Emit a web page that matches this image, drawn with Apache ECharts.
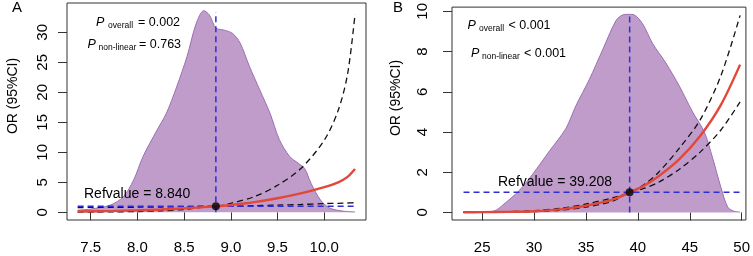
<!DOCTYPE html>
<html><head><meta charset="utf-8">
<script src="https://cdn.jsdelivr.net/npm/echarts@6/dist/echarts.min.js"></script>
<style>html,body{margin:0;padding:0;background:#fff}#c{width:753px;height:256px}</style>
</head><body><div id="c"></div>
<script>
// ---------- Panel A data ----------
const densAx = [7.36, 7.5, 7.71, 7.85, 7.96, 8.06, 8.21, 8.31, 8.42, 8.53, 8.63, 8.71, 8.77, 8.84, 8.92, 9.02, 9.1, 9.2, 9.31, 9.42, 9.52, 9.63, 9.72, 9.79, 9.86, 9.96, 10.06, 10.2, 10.33];
const densAy = [0.35, 0.55, 1.2, 2.6, 5.4, 9.3, 13.7, 16.5, 20.9, 25.9, 31.5, 33.6, 32.9, 30.7, 30.4, 29.8, 28.2, 24.3, 20.4, 16.5, 12.1, 9.3, 8.2, 7.3, 4.8, 2.05, 0.7, 0.2, 0.05];
const curveAx = [7.36, 7.75, 8.0, 8.25, 8.5, 8.84, 9.0, 9.25, 9.5, 9.75, 10.0, 10.15, 10.25, 10.33];
const orA     = [0.14, 0.23, 0.33, 0.47, 0.66, 1, 1.22, 1.7, 2.35, 3.15, 4.2, 5.0, 5.9, 7.2];
const upA     = [0.8, 0.82, 0.85, 0.88, 0.95, 1, 1.5, 2.6, 4.5, 7.3, 12, 17, 23, 33];
const loA     = [0.03, 0.07, 0.13, 0.25, 0.47, 1, 1.0, 1.1, 1.2, 1.3, 1.45, 1.5, 1.55, 1.6];
const refA = 8.840, refTopA = 33.4;
const xTicksA = [7.5, 8.0, 8.5, 9.0, 9.5, 10.0];
const yTicksA = [0, 5, 10, 15, 20, 25, 30];

// ---------- Panel B data ----------
const densBx = [23.2, 25, 26.2, 26.97, 28.57, 29.86, 31.46, 33.07, 34.04, 35.32, 36.6, 37.89, 38.53, 39.1, 39.65, 40.46, 41.42, 42.7, 43.99, 45.28, 46.4, 47.2, 48.0, 48.65, 49.2, 49.85];
const densBy = [0.01, 0.02, 0.08, 0.36, 1.09, 1.9, 3.04, 4.18, 5.32, 6.61, 8.08, 9.54, 9.82, 9.85, 9.82, 9.38, 8.4, 7.43, 6.29, 4.99, 4.0, 2.71, 1.25, 0.27, 0.07, 0.02];
const curveBx = [23.2, 25, 27.5, 30, 32.5, 35, 37.5, 39.208, 40.5, 42, 44, 46, 48, 49.85];
const orB     = [0.01, 0.015, 0.03, 0.06, 0.15, 0.33, 0.62, 1, 1.3, 1.8, 2.65, 3.8, 5.35, 7.35];
const upB     = [0.015, 0.02, 0.04, 0.09, 0.2, 0.42, 0.72, 1, 1.35, 2.0, 3.2, 4.6, 6.8, 9.8];
const loB     = [0.005, 0.01, 0.02, 0.04, 0.11, 0.27, 0.55, 1, 1.18, 1.5, 2.15, 3.0, 4.1, 5.5];
const refB = 39.208, refTopB = 9.8;
const xTicksB = [25, 30, 35, 40, 45, 50];
const yTicksB = [0, 2, 4, 6, 8, 10];

const FONT = 'Liberation Sans, Arial, Helvetica, sans-serif';
const PURPLE = '#C09CCB', PURPLE_EDGE = '#9A70B0', RED = '#E2473A', BLUE = '#2E2ED4';

const zip = (xs, ys) => xs.map((x, i) => [x, ys[i]]);

function panelSeries(idx, dx, dy, cx, or, up, lo, ref, refTop) {
  const base = {xAxisIndex: idx, yAxisIndex: idx, symbol: 'none', silent: true, animation: false};
  const sm = {smooth: 0.3};
  return [
    Object.assign({}, base, sm, {type: 'line', data: zip(dx, dy),
      lineStyle: {color: PURPLE_EDGE, width: 1}, areaStyle: {color: PURPLE, opacity: 1}, z: 1}),
    Object.assign({}, base, sm, {type: 'line', data: zip(cx, lo),
      lineStyle: {color: '#111', width: 1.3, type: [6, 4]}, z: 2}),
    Object.assign({}, base, sm, {type: 'line', data: zip(cx, up),
      lineStyle: {color: '#111', width: 1.3, type: [6, 4]}, z: 2}),
    Object.assign({}, base, {type: 'line', data: [[cx[0], 1], [cx[cx.length - 1], 1]],
      lineStyle: {color: BLUE, width: 1.5, type: [6, 4]}, z: 3}),
    Object.assign({}, base, {type: 'line', data: [[ref, 0], [ref, refTop]],
      lineStyle: {color: BLUE, width: 1.5, type: [6, 4]}, z: 3}),
    Object.assign({}, base, sm, {type: 'line', data: zip(cx, or),
      lineStyle: {color: RED, width: 2.4}, z: 4}),
    Object.assign({}, base, {type: 'scatter', symbol: 'circle', symbolSize: 8, data: [[ref, 1]],
      itemStyle: {color: '#000'}, z: 5})
  ];
}

function xAxis(idx, min, max, ticks, fmt) {
  return {type: 'value', gridIndex: idx, min: min, max: max,
    splitLine: {show: false}, axisLine: {show: false},
    axisTick: {show: true, length: 8, customValues: ticks, lineStyle: {color: '#333', width: 1}},
    axisLabel: {customValues: ticks, margin: 20, fontSize: 15, color: '#000', fontFamily: FONT, formatter: fmt}};
}
function yAxis(idx, min, max, ticks, margin) {
  return {type: 'value', gridIndex: idx, min: min, max: max,
    splitLine: {show: false}, axisLine: {show: false},
    axisTick: {show: true, length: 9, customValues: ticks, lineStyle: {color: '#333', width: 1}},
    axisLabel: {customValues: ticks, margin: margin, rotate: 90, fontSize: 15, color: '#000', fontFamily: FONT,
      formatter: v => String(Math.round(v))}};
}

function txt(x, y, s, size, opts) {
  return {type: 'text', x: x, y: y, silent: true, z: 100, rotation: (opts && opts.rot) || 0,
    style: {text: s, fontSize: size, fontFamily: FONT, fill: '#000',
      fontStyle: (opts && opts.italic) ? 'italic' : 'normal',
      align: (opts && opts.align) || 'left', verticalAlign: 'middle'}};
}

const chart = echarts.init(document.getElementById('c'), null, {width: 753, height: 256});
chart.setOption({
  animation: false,
  backgroundColor: '#fff',
  grid: [
    {left: 67, top: 3, width: 299, height: 217, show: true, borderColor: '#333', borderWidth: 1, backgroundColor: 'transparent'},
    {left: 452, top: 3, width: 294, height: 217, show: true, borderColor: '#333', borderWidth: 1, backgroundColor: 'transparent'}
  ],
  xAxis: [
    xAxis(0, 7.246, 10.4475, xTicksA, v => v.toFixed(1)),
    xAxis(1, 22.09, 50.41, xTicksB, v => String(Math.round(v)))
  ],
  yAxis: [
    yAxis(0, -1.283, 34.88, yTicksA, 17),
    yAxis(1, -0.376, 10.21, yTicksB, 22)
  ],
  series: [].concat(
    panelSeries(0, densAx, densAy, curveAx, orA, upA, loA, refA, refTopA),
    panelSeries(1, densBx, densBy, curveBx, orB, upB, loB, refB, refTopB)
  ),
  graphic: [
    txt(17, 8, 'A', 15, {align: 'center'}),
    txt(398, 8, 'B', 15, {align: 'center'}),
    txt(13, 96, 'OR (95%CI)', 14, {align: 'center', rot: Math.PI / 2}),
    txt(396, 98, 'OR (95%CI)', 14, {align: 'center', rot: Math.PI / 2}),
    // panel A annotations
    txt(96, 23, 'P', 12.5, {italic: true}),
    txt(108, 26, 'overall', 8.5),
    txt(138, 23, '= 0.002', 12.5),
    txt(87.5, 44.5, 'P', 12.5, {italic: true}),
    txt(98.5, 47.5, 'non-linear', 8.5),
    txt(139, 44.5, '= 0.763', 12.5),
    txt(84, 194, 'Refvalue = 8.840', 14),
    // panel B annotations
    txt(467.5, 26, 'P', 12.5, {italic: true}),
    txt(479, 29, 'overall', 8.5),
    txt(508.5, 26, '< 0.001', 12.5),
    txt(471, 53.3, 'P', 12.5, {italic: true}),
    txt(482, 56.3, 'non-linear', 8.5),
    txt(524, 53.3, '< 0.001', 12.5),
    txt(498, 182, 'Refvalue = 39.208', 14)
  ]
});
</script></body></html>
